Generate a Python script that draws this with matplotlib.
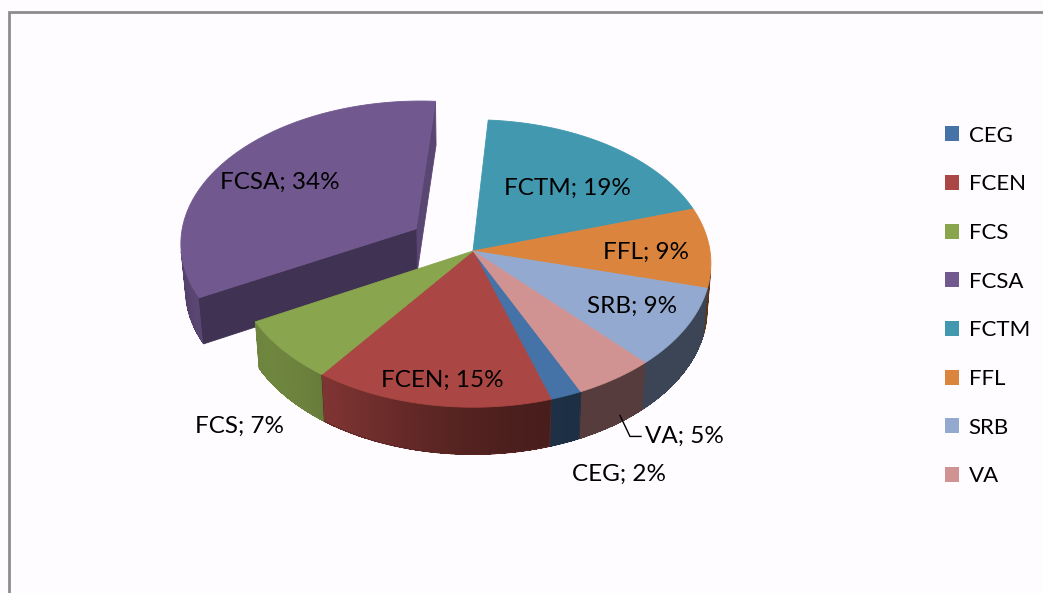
import numpy as np
import matplotlib.pyplot as plt
from matplotlib.patches import Polygon, Patch
from matplotlib.colors import to_rgb

plt.rcParams['font.family'] = ['Lato', 'DejaVu Sans']

# data
labels = ['CEG', 'FCEN', 'FCS', 'FCSA', 'FCTM', 'FFL', 'SRB', 'VA']
values = [2, 15, 7, 34, 19, 9, 9, 5]
colors = ['#4572A7', '#AA4643', '#89A54E', '#71588F',
          '#4198AF', '#DB843D', '#93A9CF', '#D19392']
explode = [0, 0, 0, 0.29, 0, 0, 0, 0]

# label placement per slice: (angle nudge deg, radius, depth in units of thickness)
label_pos = [(5.8, 1.25, -1), (1.4, 0.85, 0), (1.0, 1.25, -1), (3.0, 0.70, 0),
             (-4.0, 0.62, 0), (-2.0, 0.73, 0), (1.2, 0.75, 0), (2.0, 1.0, -0.85)]

# 3d pie geometry (pixels)
START = 294.8          # first slice edge, degrees ccw from +x, slices go clockwise
CX, CY = 473, 251
SCALE = 237
ELEV = np.radians(37)
DIST = 9.2
THICK = 0.245
se, ce = np.sin(ELEV), np.cos(ELEV)
cam = np.array([0, -DIST * ce, DIST * se])


def proj(X, Y, Z):
    yc = Y * se + Z * ce
    depth = DIST + Y * ce - Z * se
    f = DIST / depth
    return CX + SCALE * X * f, CY - SCALE * yc * f


def shade(c, t):
    # darker side faces, lit from the front-left
    k = 0.41 + 0.4 * max(0.0, np.cos(np.radians(t - 215))) ** 3
    return tuple(np.array(to_rgb(c)) * k)


def visible(n, p):
    return np.dot(n, cam - p) > 0


fig = plt.figure(figsize=(10.43, 5.93), dpi=100)
fig.patch.set_facecolor('#FEFCFE')
ax = fig.add_axes([0, 0, 1, 1])
ax.set_xlim(0, 1043)
ax.set_ylim(593, 0)
ax.axis('off')

# chart frame (cut off at right / bottom like the original)
ax.plot([9, 9, 1050], [600, 12, 12], color='#8C8C8C', lw=2, solid_joinstyle='miter')

fracs = np.array(values) / sum(values)
bounds = START - np.concatenate([[0], np.cumsum(fracs)]) * 360
slices = []
for i in range(len(values)):
    t_hi, t_lo = bounds[i], bounds[i + 1]
    mid = np.radians((t_hi + t_lo) / 2)
    off = explode[i] * np.array([np.cos(mid), np.sin(mid)])
    slices.append((t_lo, t_hi, off))


def add_poly(pts, fc, z, aa=True, lw=0.6):
    ax.add_patch(Polygon(pts, closed=True, facecolor=fc, edgecolor=fc if lw else 'none',
                         lw=lw, zorder=z, antialiased=aa))


def wall_pts(off, a, b, n=30):
    ts = np.radians(np.linspace(a, b, n))
    upper = [proj(off[0] + np.cos(t), off[1] + np.sin(t), 0) for t in ts]
    lower = [proj(off[0] + np.cos(t), off[1] + np.sin(t), -THICK) for t in ts[::-1]]
    return upper + lower


def walls(i):
    # returns list of (depth, outline, base colour, gradient strips)
    t_lo, t_hi, off = slices[i]
    n = max(4, int(abs(t_hi - t_lo)))
    ts = np.linspace(t_lo, t_hi, n + 1)
    vis = []
    for a, b in zip(ts[:-1], ts[1:]):
        m = np.radians((a + b) / 2)
        p = np.array([off[0] + np.cos(m), off[1] + np.sin(m), 0])
        if visible(np.array([np.cos(m), np.sin(m), 0]), p):
            vis.append((a, b))
    if not vis:
        return []
    a0, b0 = vis[0][0], vis[-1][1]
    outline = wall_pts(off, a0, b0)
    strips = [(wall_pts(off, a, b, 3), shade(colors[i], (a + b) / 2)) for a, b in vis]
    depth = off[1] + np.sin(np.radians((a0 + b0) / 2))
    return [(depth, outline, shade(colors[i], (a0 + b0) / 2), strips)]


def draw_walls(ws, z):
    for _, outline, fc, strips in sorted(ws, key=lambda w: -w[0]):
        add_poly(outline, fc, z, aa=True, lw=0.6)
        for q, c in strips:
            add_poly(q, c, z + 0.1, aa=False, lw=0)
        # smooth the outer border again
        ax.add_patch(Polygon(outline, closed=True, facecolor='none', edgecolor=fc,
                             lw=0.6, zorder=z + 0.2))


def radial_faces(i):
    t_lo, t_hi, off = slices[i]
    out = []
    for t, sgn in [(t_lo, 1), (t_hi, -1)]:
        r = np.radians(t)
        nrm = sgn * np.array([np.sin(r), -np.cos(r), 0])
        p = np.array([off[0] + 0.5 * np.cos(r), off[1] + 0.5 * np.sin(r), 0])
        if not visible(nrm, p):
            continue
        q = [proj(off[0], off[1], 0),
             proj(off[0] + np.cos(r), off[1] + np.sin(r), 0),
             proj(off[0] + np.cos(r), off[1] + np.sin(r), -THICK),
             proj(off[0], off[1], -THICK)]
        k = 0.57 if sgn < 0 else 0.8
        out.append((q, tuple(np.array(to_rgb(colors[i])) * k)))
    return out


def top(i):
    t_lo, t_hi, off = slices[i]
    ts = np.radians(np.linspace(t_lo, t_hi, 100))
    pts = [proj(off[0], off[1], 0)]
    pts += [proj(off[0] + np.cos(t), off[1] + np.sin(t), 0) for t in ts]
    return pts


exploded = [i for i in range(len(values)) if explode[i] > 0]
normal = [i for i in range(len(values)) if explode[i] == 0]

for i in exploded:
    draw_walls(walls(i), 1)
    for q, fc in radial_faces(i):
        add_poly(q, fc, 2)
    add_poly(top(i), colors[i], 3)

ws = []
for i in normal:
    ws += walls(i)
draw_walls(ws, 5)
for i in normal:
    add_poly(top(i), colors[i], 6)

# data labels
for i, (dt, r, zz) in enumerate(label_pos):
    t_lo, t_hi, off = slices[i]
    m = np.radians((t_lo + t_hi) / 2 + dt)
    x, y = proj(off[0] + r * np.cos(m), off[1] + r * np.sin(m), zz * THICK)
    txt = f'{labels[i]}; {values[i]}%'
    if labels[i] == 'VA':
        ax.plot([x, x + 10, x + 21], [y, y + 21, y + 21], color='black', lw=1, zorder=10)
        ax.text(x + 25, y + 21, txt, fontsize=17.5, ha='left', va='center', zorder=10)
    else:
        ax.text(x, y, txt, fontsize=17.5, ha='center', va='center', zorder=10)

handles = [Patch(facecolor=c, edgecolor='none') for c in colors]
ax.legend(handles, labels, loc='center left', bbox_to_anchor=(0.906, 0.484),
          frameon=False, fontsize=16, labelspacing=1.29, handlelength=0.62,
          handleheight=0.68, handletextpad=0.45, borderpad=0, borderaxespad=0)

fig.savefig('out.png', dpi=100, facecolor=fig.get_facecolor())
